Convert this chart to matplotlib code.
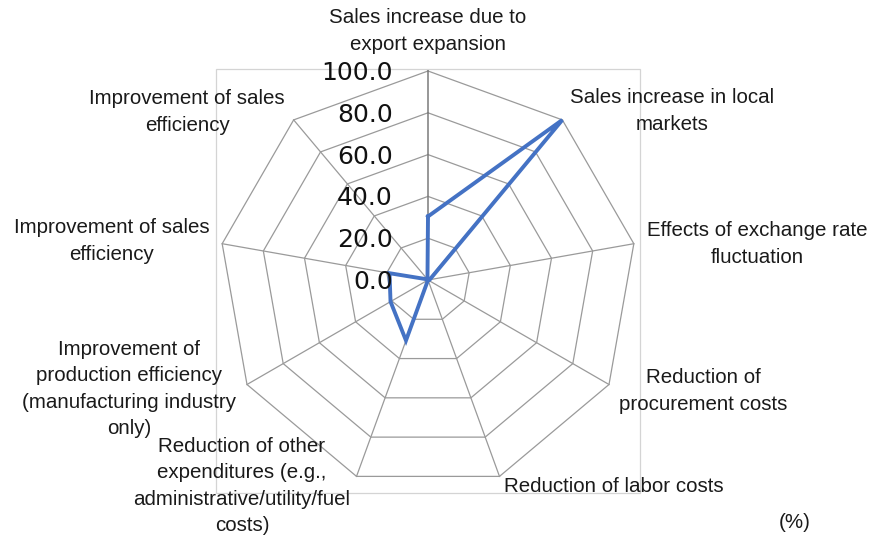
import numpy as np
import matplotlib
matplotlib.use("Agg")
import matplotlib.pyplot as plt
from matplotlib import transforms
from matplotlib.patches import Rectangle

# Categories (clockwise from the top) and the share of companies (%)
categories = [
    "Sales increase due to\nexport expansion",
    "Sales increase in local\nmarkets",
    "Effects of exchange rate\nfluctuation",
    "Reduction of\nprocurement costs",
    "Reduction of labor costs",
    "Reduction of other\nexpenditures (e.g.,\nadministrative/utility/fuel\ncosts)",
    "Improvement of\nproduction efficiency\n(manufacturing industry\nonly)",
    "Improvement of sales\nefficiency",
    "Improvement of sales\nefficiency",
]
values = [30.4, 100.0, 0.8, 0.0, 0.0, 30.8, 20.7, 18.7, 0.4]
ring_values = [0, 20, 40, 60, 80, 100]
ring_labels = ["0.0", "20.0", "40.0", "60.0", "80.0", "100.0"]

W, H = 875, 540
fig = plt.figure(figsize=(W / 100, H / 100), dpi=100)
fig.patch.set_facecolor("white")

label_font = ["Liberation Sans", "DejaVu Sans"]

# plot-area frame
fig.add_artist(Rectangle((216 / W, 1 - 493 / H), (640 - 216) / W, (493 - 69) / H,
                         transform=fig.transFigure, fill=False,
                         edgecolor="#d4d4d4", linewidth=0.9, zorder=0))

# polar axes centred on the chart, radius 100 at the outer ring
cx, cy, R = 428, 280, 209
ax = fig.add_axes([(cx - R) / W, 1 - (cy + R) / H, 2 * R / W, 2 * R / H],
                  projection="polar")
ax.set_theta_zero_location("N")
ax.set_theta_direction(-1)
ax.set_ylim(0, 100)
ax.grid(False)
ax.spines["polar"].set_visible(False)
ax.set_xticks([])
ax.set_yticks([])
ax.patch.set_alpha(0)

n = len(categories)
angles = np.arange(n) * 2 * np.pi / n
closed = np.append(angles, angles[0])

# polygonal rings
for rv in ring_values[1:]:
    ax.plot(closed, [rv] * (n + 1), color="#9a9a9a", linewidth=0.9,
            clip_on=False, zorder=1)
# spokes
for i, a in enumerate(angles):
    ax.plot([a, a], [0, 100], color="#7a7a7a" if i == 0 else "#9a9a9a",
            linewidth=1.1 if i == 0 else 0.9, clip_on=False, zorder=1)

# data series
ax.plot(closed, values + [values[0]], color="#4472C4", linewidth=2.8,
        solid_joinstyle="miter", clip_on=False, zorder=3)

# value labels along the top spoke
off = transforms.offset_copy(ax.transData, fig=fig, x=-35, y=-2, units="dots")
for rv, lab in zip(ring_values, ring_labels):
    ax.text(0, rv, lab, transform=off, ha="right", va="center",
            fontsize=18, family="DejaVu Sans", color="#111111", zorder=4)

# category labels (centre positions in pixels)
label_pos = [
    (428, 31), (672, 111), (757, 244), (703, 391), (614, 487),
    (242, 486), (129, 389), (112, 241), (187, 112),
]
for text, (px, py) in zip(categories, label_pos):
    fig.text(px / W, 1 - py / H, text, ha="center", va="center",
             multialignment="center", fontsize=14.8, family=label_font,
             color="#1a1a1a", linespacing=1.5)

fig.text(795 / W, 1 - 522 / H, "(%)", ha="center", va="center",
         fontsize=14.8, family=label_font, color="#1a1a1a")

fig.savefig("out.png", dpi=100)
